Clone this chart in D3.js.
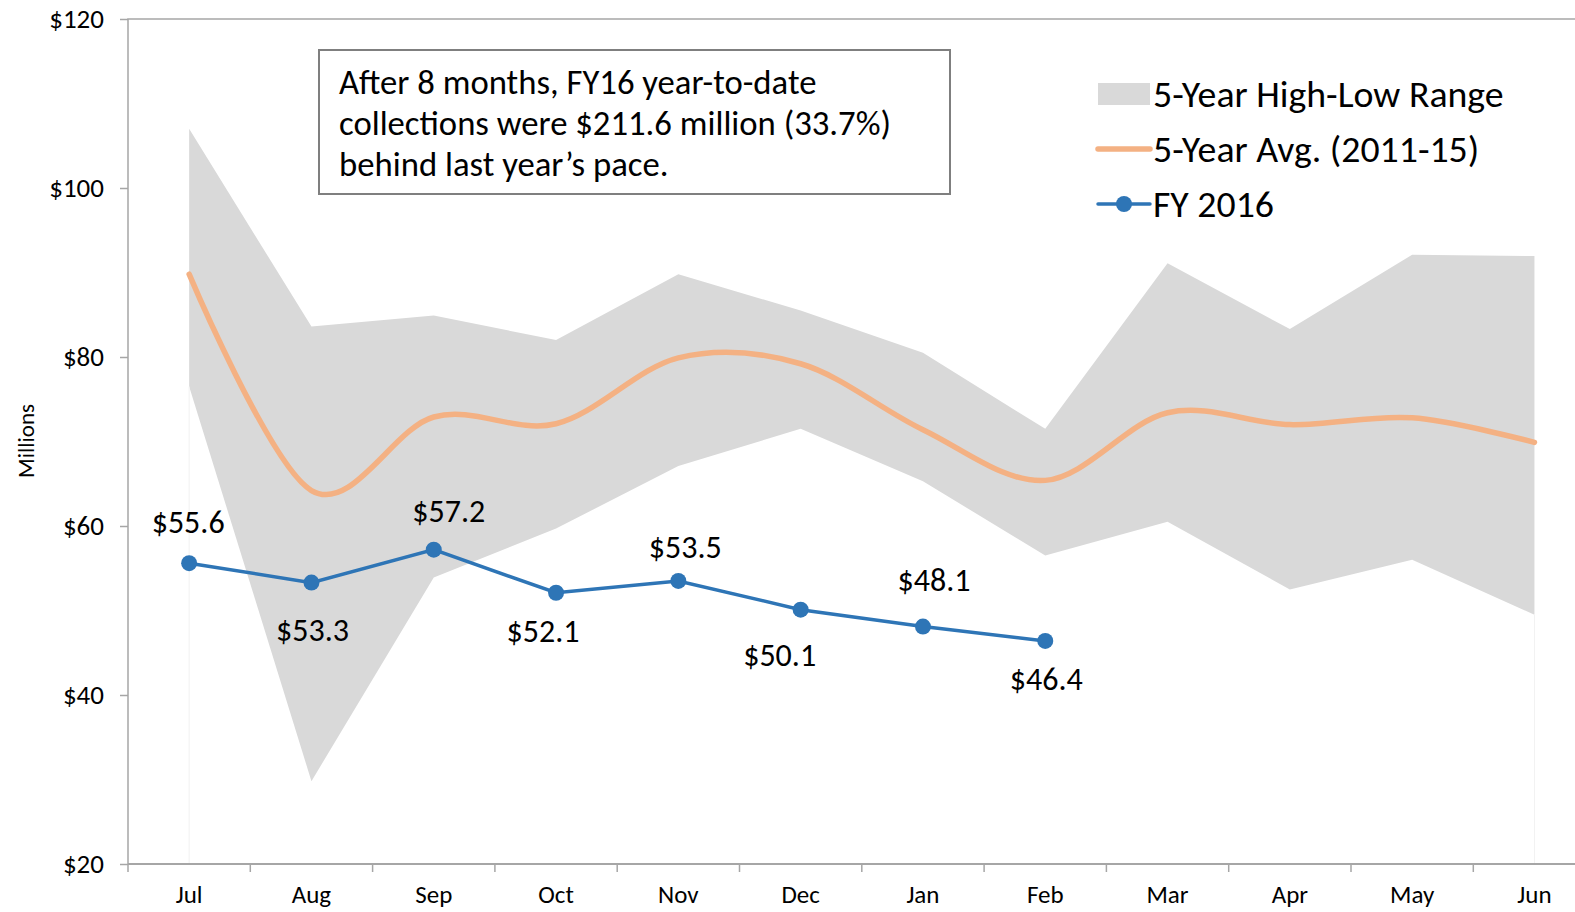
<!DOCTYPE html>
<html>
<head>
<meta charset="utf-8">
<script src="https://cdn.jsdelivr.net/npm/d3@7"></script>
<style>
  html, body { margin: 0; padding: 0; background: #fff; }
  svg { display: block; }
  text { font-family: Carlito, Calibri, Lato, sans-serif; fill: #000; }
</style>
</head>
<body>
<svg id="chart" width="1575" height="912"></svg>
<script>
'use strict';

// ── データ ────────────────────────────────────────────
const months = ['Jul', 'Aug', 'Sep', 'Oct', 'Nov', 'Dec', 'Jan', 'Feb', 'Mar', 'Apr', 'May', 'Jun'];
const rangeHigh = [107.0, 83.6, 84.9, 82.0, 89.8, 85.5, 80.5, 71.5, 91.1, 83.3, 92.1, 91.95];
const rangeLow  = [76.5, 29.8, 53.9, 59.7, 67.1, 71.5, 65.3, 56.5, 60.5, 52.5, 56.0, 49.5];
const avg5yr    = [89.8, 64.2, 72.9, 72.1, 79.9, 79.2, 71.4, 65.4, 73.4, 72.0, 72.8, 69.9];
const fy2016    = [55.6, 53.3, 57.2, 52.1, 53.5, 50.1, 48.1, 46.4];
const yTicks    = [20, 40, 60, 80, 100, 120];
const legendItems = ['5-Year High-Low Range', '5-Year Avg. (2011-15)', 'FY 2016'];
const noteLines = [
  'After 8 months, FY16 year-to-date',
  'collections were $211.6 million (33.7%)',
  'behind last year\u2019s pace.'
];

// ラベルの手動配置（点からのずれ, px）
const labelDx = [-1, 1, 15, -13, 7, -21, 11, 1];
const labelDy = [-41, 47, -39, 38, -34, 45, -47, 38];

// ── 色 ────────────────────────────────────────────────
const GRAY = '#d9d9d9';
const ORANGE = '#f4b183';
const BLUE = '#2e75b6';
const AXIS = '#a6a6a6';

const svg = d3.select('#chart');

const plotLeft = 128, plotTop = 19, plotBottom = 864;
const step = 122.3;

const x = d3.scaleBand()
  .domain(months)
  .range([plotLeft, plotLeft + step * months.length])
  .padding(0);
const cx = m => x(m) + x.bandwidth() / 2;

const y = d3.scaleLinear().domain([20, 120]).range([plotBottom, plotTop]);

// ── 高低レンジ（面） ──────────────────────────────────
const rangeData = months.map((m, i) => ({ m, hi: rangeHigh[i], lo: rangeLow[i] }));

svg.append('path')
  .datum(rangeData)
  .attr('fill', GRAY)
  .attr('d', d3.area()
    .x(d => cx(d.m))
    .y0(d => y(d.lo))
    .y1(d => y(d.hi)));

// 端のかすかな縦線
[rangeData[0], rangeData[rangeData.length - 1]].forEach(d => {
  svg.append('line')
    .attr('x1', cx(d.m)).attr('x2', cx(d.m))
    .attr('y1', y(d.lo)).attr('y2', plotBottom)
    .attr('stroke', '#f2f2f2')
    .attr('stroke-width', 1);
});

// ── 枠と軸 ────────────────────────────────────────────
svg.append('path')
  .attr('d', `M${plotLeft},${plotBottom}V${plotTop}H1575`)
  .attr('fill', 'none')
  .attr('stroke', AXIS)
  .attr('stroke-width', 1.5);

const yAxis = svg.append('g')
  .attr('transform', `translate(${plotLeft},0)`)
  .call(d3.axisLeft(y).tickValues(yTicks).tickFormat(d => '$' + d).tickSize(8).tickPadding(16));
yAxis.select('.domain').remove();
yAxis.selectAll('line').attr('stroke', AXIS).attr('stroke-width', 1.5);
yAxis.selectAll('text').attr('font-size', 27).attr('fill', '#000')
  .attr('font-family', 'Carlito, Calibri, Lato, sans-serif');

svg.append('line')
  .attr('x1', plotLeft).attr('x2', 1575)
  .attr('y1', plotBottom).attr('y2', plotBottom)
  .attr('stroke', AXIS).attr('stroke-width', 2);

// 境界の目盛り
svg.append('g').selectAll('line')
  .data(months)
  .join('line')
  .attr('x1', d => x(d)).attr('x2', d => x(d))
  .attr('y1', plotBottom).attr('y2', plotBottom + 8)
  .attr('stroke', AXIS).attr('stroke-width', 1.5);

svg.append('g').selectAll('text')
  .data(months)
  .join('text')
  .attr('x', d => cx(d))
  .attr('y', plotBottom + 39)
  .attr('text-anchor', 'middle')
  .attr('font-size', 25)
  .text(d => d);

svg.append('text')
  .attr('transform', 'translate(34,441) rotate(-90)')
  .attr('text-anchor', 'middle')
  .attr('font-size', 23)
  .text('Millions');

// ── 5年平均（スムーズ線） ────────────────────────────
svg.append('path')
  .datum(months.map((m, i) => ({ m, v: avg5yr[i] })))
  .attr('fill', 'none')
  .attr('stroke', ORANGE)
  .attr('stroke-width', 5.5)
  .attr('stroke-linecap', 'round')
  .attr('d', d3.line()
    .x(d => cx(d.m))
    .y(d => y(d.v))
    .curve(d3.curveCatmullRom.alpha(0)));

// ── FY2016 ───────────────────────────────────────────
const fyData = fy2016.map((v, i) => ({ m: months[i], v, i }));

svg.append('path')
  .datum(fyData)
  .attr('fill', 'none')
  .attr('stroke', BLUE)
  .attr('stroke-width', 3.5)
  .attr('d', d3.line().x(d => cx(d.m)).y(d => y(d.v)));

svg.append('g').selectAll('circle')
  .data(fyData)
  .join('circle')
  .attr('cx', d => cx(d.m))
  .attr('cy', d => y(d.v))
  .attr('r', 8)
  .attr('fill', BLUE);

svg.append('g').selectAll('text')
  .data(fyData)
  .join('text')
  .attr('x', d => cx(d.m) + labelDx[d.i])
  .attr('y', d => y(d.v) + labelDy[d.i])
  .attr('dy', '0.35em')
  .attr('text-anchor', 'middle')
  .attr('font-size', 32)
  .text(d => '$' + d.v.toFixed(1));

// ── 注記ボックス ─────────────────────────────────────
svg.append('rect')
  .attr('x', 319).attr('y', 50)
  .attr('width', 631).attr('height', 144)
  .attr('fill', '#fff')
  .attr('stroke', '#7f7f7f')
  .attr('stroke-width', 2);

svg.append('g').selectAll('text')
  .data(noteLines)
  .join('text')
  .attr('x', 339)
  .attr('y', (d, i) => 82 + i * 41)
  .attr('dy', '0.35em')
  .attr('font-size', 34.7)
  .text(d => d);

// ── 凡例 ─────────────────────────────────────────────
const legend = svg.append('g').attr('transform', 'translate(1098,0)');
const legendY = [94, 149, 204];

legend.append('rect')
  .attr('x', 0).attr('y', legendY[0] - 11)
  .attr('width', 52).attr('height', 22)
  .attr('fill', GRAY);

legend.append('line')
  .attr('x1', 0).attr('x2', 52)
  .attr('y1', legendY[1]).attr('y2', legendY[1])
  .attr('stroke', ORANGE).attr('stroke-width', 5.5).attr('stroke-linecap', 'round');

legend.append('line')
  .attr('x1', 0).attr('x2', 52)
  .attr('y1', legendY[2]).attr('y2', legendY[2])
  .attr('stroke', BLUE).attr('stroke-width', 3.5).attr('stroke-linecap', 'round');
legend.append('circle')
  .attr('cx', 26).attr('cy', legendY[2]).attr('r', 8).attr('fill', BLUE);

legend.selectAll('text.lbl')
  .data(legendItems)
  .join('text')
  .attr('class', 'lbl')
  .attr('x', 55)
  .attr('y', (d, i) => legendY[i])
  .attr('dy', '0.35em')
  .attr('font-size', 37.8)
  .text(d => d);
</script>
</body>
</html>
